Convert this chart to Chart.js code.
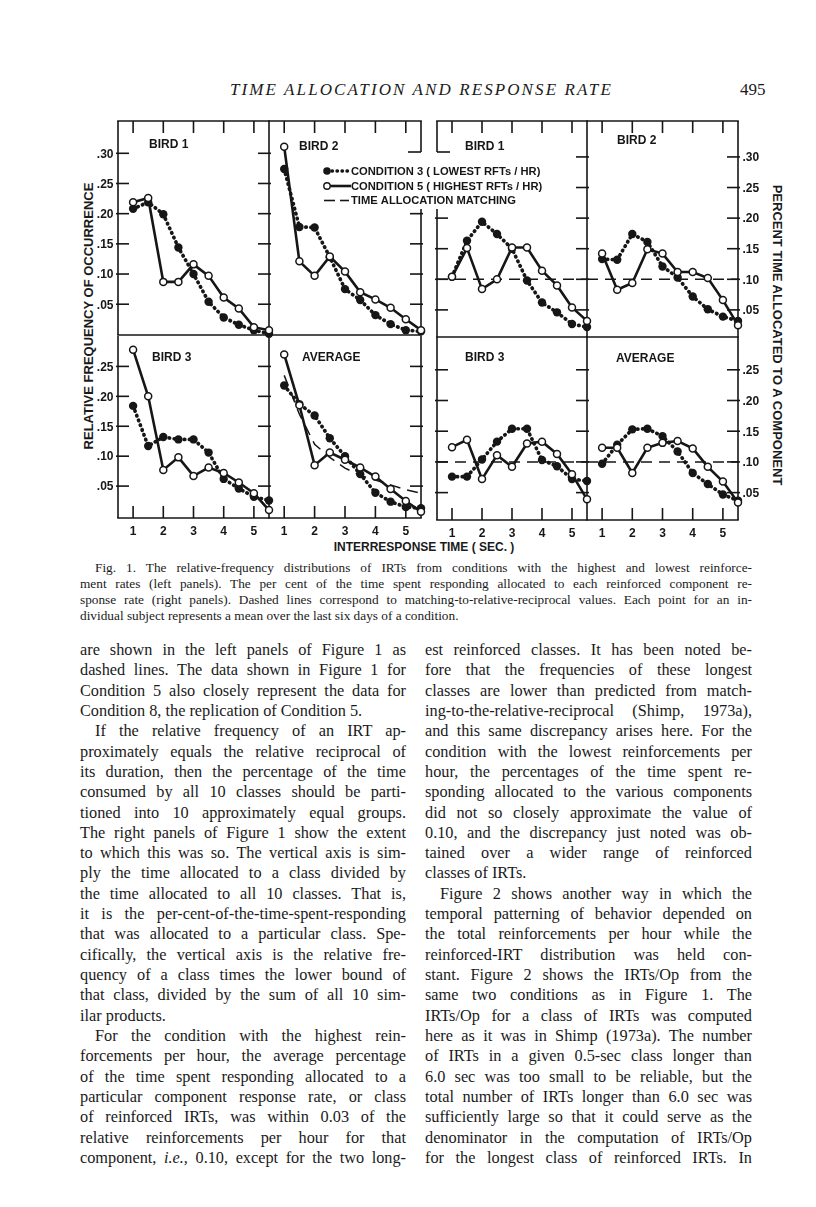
<!DOCTYPE html>
<html>
<head>
<meta charset="utf-8">
<script src="https://cdn.jsdelivr.net/npm/chart.js@4.4.0/dist/chart.umd.min.js"></script>
<style>
  body { margin: 0; background: #fff; width: 816px; height: 1207px; position: relative; overflow: hidden;
         font-family: "Liberation Serif", "Times New Roman", serif; color: #1a1a1a; }
  canvas { position: absolute; }
  .hdr { position: absolute; top: 80px; left: 230px; font-style: italic; font-size: 17px; letter-spacing: 2.1px; white-space: nowrap; }
  .pno { position: absolute; top: 80px; left: 740px; font-size: 17px; }
  .lab { position: absolute; font-family: "Liberation Sans", Arial, sans-serif; font-weight: bold; font-size: 13px; white-space: nowrap; }
  .cap { position: absolute; left: 80px; top: 560px; width: 672px; font-size: 13.3px; line-height: 16px; }
  .col { position: absolute; top: 640px; font-size: 16.3px; line-height: 20.32px; }
  .cap div, .col div { height: 16px; text-align: justify; text-align-last: justify; white-space: nowrap; }
  .col div { height: 20.32px; }
  .cap div.e, .col div.e { text-align-last: left; }
  .cap div.i, .col div.i { text-indent: 15px; }
</style>
</head>
<body>
<div class="hdr">TIME ALLOCATION AND RESPONSE RATE</div>
<div class="pno">495</div>

<div class="lab" style="left:88px;top:316px;transform:translate(-50%,-50%) rotate(-90deg);">RELATIVE FREQUENCY OF OCCURRENCE</div>
<div class="lab" style="left:777px;top:335px;transform:translate(-50%,-50%) rotate(90deg);">PERCENT TIME ALLOCATED TO A COMPONENT</div>
<div class="lab" style="left:424px;top:547px;font-size:12px;transform:translate(-50%,-50%);">INTERRESPONSE TIME ( SEC. )</div>

<div class="cap">
  <div class="i">Fig. 1. The relative-frequency distributions of IRTs from conditions with the highest and lowest reinforce-</div>
  <div>ment rates (left panels). The per cent of the time spent responding allocated to each reinforced component re-</div>
  <div>sponse rate (right panels). Dashed lines correspond to matching-to-relative-reciprocal values. Each point for an in-</div>
  <div class="e">dividual subject represents a mean over the last six days of a condition.</div>
</div>

<div class="col" style="left:80px;width:326px;">
  <div>are shown in the left panels of Figure 1 as</div>
  <div>dashed lines. The data shown in Figure 1 for</div>
  <div>Condition 5 also closely represent the data for</div>
  <div class="e">Condition 8, the replication of Condition 5.</div>
  <div class="i">If the relative frequency of an IRT ap-</div>
  <div>proximately equals the relative reciprocal of</div>
  <div>its duration, then the percentage of the time</div>
  <div>consumed by all 10 classes should be parti-</div>
  <div>tioned into 10 approximately equal groups.</div>
  <div>The right panels of Figure 1 show the extent</div>
  <div>to which this was so. The vertical axis is sim-</div>
  <div>ply the time allocated to a class divided by</div>
  <div>the time allocated to all 10 classes. That is,</div>
  <div>it is the per-cent-of-the-time-spent-responding</div>
  <div>that was allocated to a particular class. Spe-</div>
  <div>cifically, the vertical axis is the relative fre-</div>
  <div>quency of a class times the lower bound of</div>
  <div>that class, divided by the sum of all 10 sim-</div>
  <div class="e">ilar products.</div>
  <div class="i">For the condition with the highest rein-</div>
  <div>forcements per hour, the average percentage</div>
  <div>of the time spent responding allocated to a</div>
  <div>particular component response rate, or class</div>
  <div>of reinforced IRTs, was within 0.03 of the</div>
  <div>relative reinforcements per hour for that</div>
  <div>component, <i>i.e.,</i> 0.10, except for the two long-</div>
</div>

<div class="col" style="left:425px;width:327px;">
  <div>est reinforced classes. It has been noted be-</div>
  <div>fore that the frequencies of these longest</div>
  <div>classes are lower than predicted from match-</div>
  <div>ing-to-the-relative-reciprocal (Shimp, 1973a),</div>
  <div>and this same discrepancy arises here. For the</div>
  <div>condition with the lowest reinforcements per</div>
  <div>hour, the percentages of the time spent re-</div>
  <div>sponding allocated to the various components</div>
  <div>did not so closely approximate the value of</div>
  <div>0.10, and the discrepancy just noted was ob-</div>
  <div>tained over a wider range of reinforced</div>
  <div class="e">classes of IRTs.</div>
  <div class="i">Figure 2 shows another way in which the</div>
  <div>temporal patterning of behavior depended on</div>
  <div>the total reinforcements per hour while the</div>
  <div>reinforced-IRT distribution was held con-</div>
  <div>stant. Figure 2 shows the IRTs/Op from the</div>
  <div>same two conditions as in Figure 1. The</div>
  <div>IRTs/Op for a class of IRTs was computed</div>
  <div>here as it was in Shimp (1973a). The number</div>
  <div>of IRTs in a given 0.5-sec class longer than</div>
  <div>6.0 sec was too small to be reliable, but the</div>
  <div>total number of IRTs longer than 6.0 sec was</div>
  <div>sufficiently large so that it could serve as the</div>
  <div>denominator in the computation of IRTs/Op</div>
  <div>for the longest class of reinforced IRTs. In</div>
</div>

<script>
// IRT classes (lower bound, sec)
const irtClasses = [1, 1.5, 2, 2.5, 3, 3.5, 4, 4.5, 5, 5.5];
const xTickValues = [1, 2, 3, 4, 5];
const yTickValuesUpper = [0.05, 0.10, 0.15, 0.20, 0.25, 0.30];
const yTickLabelsUpper = ['.05', '.10', '.15', '.20', '.25', '.30'];
const yTickValuesLower = [0.05, 0.10, 0.15, 0.20, 0.25];
const yTickLabelsLower = ['.05', '.10', '.15', '.20', '.25'];

// relative frequency (left panels)
const bird1FreqCond3 = [0.208, 0.219, 0.199, 0.144, 0.100, 0.054, 0.028, 0.016, 0.007, 0.001];
const bird1FreqCond5 = [0.219, 0.226, 0.087, 0.087, 0.116, 0.097, 0.061, 0.043, 0.012, 0.007];
const bird2FreqCond3 = [0.274, 0.178, 0.177, 0.128, 0.075, 0.057, 0.032, 0.017, 0.007, 0.005];
const bird2FreqCond5 = [0.311, 0.121, 0.097, 0.129, 0.104, 0.070, 0.058, 0.044, 0.025, 0.007];
const bird3FreqCond3 = [0.184, 0.117, 0.132, 0.128, 0.128, 0.106, 0.062, 0.046, 0.032, 0.026];
const bird3FreqCond5 = [0.278, 0.200, 0.077, 0.098, 0.067, 0.081, 0.072, 0.056, 0.038, 0.010];
const avgFreqCond3   = [0.218, 0.187, 0.168, 0.130, 0.100, 0.070, 0.039, 0.024, 0.015, 0.013];
const avgFreqCond5   = [0.270, 0.185, 0.085, 0.106, 0.094, 0.081, 0.066, 0.045, 0.025, 0.007];
const avgFreqMatch   = [0.235, 0.170, 0.120, 0.098, 0.080, 0.068, 0.060, 0.052, 0.044, 0.038];

// percent time allocated (right panels)
const bird1TimeCond3 = [0.104, 0.163, 0.194, 0.174, 0.150, 0.098, 0.062, 0.046, 0.027, 0.022];
const bird1TimeCond5 = [0.104, 0.151, 0.084, 0.100, 0.152, 0.152, 0.114, 0.090, 0.054, 0.032];
const bird2TimeCond3 = [0.133, 0.132, 0.174, 0.161, 0.121, 0.103, 0.072, 0.051, 0.039, 0.032];
const bird2TimeCond5 = [0.142, 0.083, 0.094, 0.149, 0.142, 0.112, 0.112, 0.102, 0.066, 0.025];
const bird3TimeCond3 = [0.076, 0.076, 0.104, 0.133, 0.154, 0.154, 0.103, 0.093, 0.072, 0.069];
const bird3TimeCond5 = [0.124, 0.136, 0.072, 0.111, 0.092, 0.130, 0.133, 0.113, 0.080, 0.039];
const avgTimeCond3   = [0.097, 0.128, 0.153, 0.154, 0.142, 0.117, 0.082, 0.064, 0.047, 0.037];
const avgTimeCond5   = [0.123, 0.123, 0.082, 0.123, 0.131, 0.134, 0.122, 0.092, 0.068, 0.034];
const timeMatchX = [0.5, 5.5];
const timeMatch  = [0.10, 0.10];

const legendLabels = ['CONDITION 3 ( LOWEST RFTs / HR)', 'CONDITION 5 ( HIGHEST RFTs / HR)', 'TIME ALLOCATION MATCHING'];

const INK = '#161616';
const SANS = '"Liberation Sans", Arial, sans-serif';

const upperY = { ticks: yTickValuesUpper, labels: yTickLabelsUpper };
const lowerY = { ticks: yTickValuesLower, labels: yTickLabelsLower };

const panels = [
  { x: 118, y: 121, w: 151, h: 214.5, ymin: -0.001, ymax: 0.3535, c3: bird1FreqCond3, c5: bird1FreqCond5,
    title: 'BIRD 1', tx: 31, ty: 24, yt: upperY,
    edges: { top: true, left: { labels: true }, bottom: {}, right: {} } },
  { x: 269, y: 121, w: 152, h: 214.5, ymin: -0.001, ymax: 0.3535, c3: bird2FreqCond3, c5: bird2FreqCond5,
    title: 'BIRD 2', tx: 30, ty: 26, yt: upperY, legend: true, padRight: 150,
    edges: { top: true, right: { gap: [31, 88] }, bottom: {} } },
  { x: 118, y: 335.5, w: 151, h: 182.5, ymin: -0.0033, ymax: 0.3008, c3: bird3FreqCond3, c5: bird3FreqCond5,
    title: 'BIRD 3', tx: 34, ty: 21.5, yt: lowerY,
    edges: { left: { labels: true }, bottom: { labels: true }, right: {} } },
  { x: 269, y: 335.5, w: 152, h: 182.5, ymin: -0.0033, ymax: 0.3008, c3: avgFreqCond3, c5: avgFreqCond5,
    match: { x: irtClasses, y: avgFreqMatch }, title: 'AVERAGE', tx: 33, ty: 21.5, yt: lowerY,
    edges: { right: {}, bottom: { labels: true } } },
  { x: 437, y: 121, w: 150, h: 216, ymin: 0.0057, ymax: 0.3587, c3: bird1TimeCond3, c5: bird1TimeCond5,
    match: { x: timeMatchX, y: timeMatch }, title: 'BIRD 1', tx: 28, ty: 26, yt: upperY,
    edges: { top: true, left: { gap: [31, 88] }, right: {}, bottom: {} } },
  { x: 587, y: 121, w: 151, h: 216, ymin: 0.0057, ymax: 0.3587, c3: bird2TimeCond3, c5: bird2TimeCond5,
    match: { x: timeMatchX, y: timeMatch }, title: 'BIRD 2', tx: 30, ty: 20, yt: upperY,
    edges: { top: true, right: { labels: true }, bottom: {} } },
  { x: 437, y: 337, w: 150, h: 183, ymin: 0.0054, ymax: 0.3034, c3: bird3TimeCond3, c5: bird3TimeCond5,
    match: { x: timeMatchX, y: timeMatch }, title: 'BIRD 3', tx: 28, ty: 20.5, yt: lowerY,
    edges: { left: {}, bottom: { labels: true }, right: {} } },
  { x: 587, y: 337, w: 151, h: 183, ymin: 0.0054, ymax: 0.3034, c3: avgTimeCond3, c5: avgTimeCond5,
    match: { x: timeMatchX, y: timeMatch }, title: 'AVERAGE', tx: 29, ty: 22, yt: lowerY,
    edges: { right: { labels: true }, bottom: { labels: true } } },
];

// frame, inward ticks, tick labels, panel titles and legend
const panelFrame = {
  id: 'panelFrame',
  beforeDatasetsDraw(chart, args, o) {
    const { ctx, chartArea: a, scales: { x, y } } = chart;
    const e = o.edges;
    const line = (x1, y1, x2, y2) => { ctx.beginPath(); ctx.moveTo(x1, y1); ctx.lineTo(x2, y2); ctx.stroke(); };
    ctx.save();
    ctx.strokeStyle = INK;
    ctx.fillStyle = INK;
    ctx.lineWidth = 1.6;
    ctx.font = 'bold 12px ' + SANS;
    ctx.textBaseline = 'middle';

    if (e.top) {
      line(a.left - 0.8, a.top, a.right + 0.8, a.top);
      xTickValues.forEach(v => { const px = x.getPixelForValue(v); line(px, a.top, px, a.top + 12); });
    }
    if (e.bottom) {
      line(a.left - 0.8, a.bottom, a.right + 0.8, a.bottom);
      if (e.bottom.labels) {
        ctx.textAlign = 'center';
        xTickValues.forEach(v => {
          const px = x.getPixelForValue(v);
          line(px, a.bottom, px, a.bottom - 12);
          ctx.fillText(String(v), px, a.bottom + 13.5);
        });
      }
    }
    const side = (edge, xPos, dir) => {
      let from = a.top;
      if (edge.gap) {
        line(xPos, a.top, xPos, a.top + edge.gap[0]);
        line(xPos, a.top + edge.gap[0], xPos + dir * 13, a.top + edge.gap[0]);
        from = a.top + edge.gap[1];
      }
      line(xPos, from, xPos, a.bottom);
      const t = o.yt;
      t.ticks.forEach((v, i) => {
        const py = y.getPixelForValue(v);
        if (py < from + 4) return;
        line(xPos - dir * 2, py, xPos + dir * 11, py);
        if (edge.labels) {
          ctx.textAlign = dir > 0 ? 'right' : 'left';
          ctx.fillText(t.labels[i], xPos - dir * 4.5, py + 1);
        }
      });
    };
    if (e.left) side(e.left, a.left, 1);
    if (e.right) side(e.right, a.right, -1);

    ctx.font = 'bold 12px ' + SANS;
    ctx.textAlign = 'left';
    ctx.fillText(o.title, a.left + o.tx, a.top + o.ty);

    if (o.legend) {
      const lx = a.left + 58, rows = [a.top + 50, a.top + 65, a.top + 79.5];
      ctx.font = 'bold 11.2px ' + SANS;
      // condition 3
      ctx.save();
      ctx.lineWidth = 3.4; ctx.lineCap = 'round'; ctx.setLineDash([0.5, 4.5]);
      line(lx + 5, rows[0], lx + 22, rows[0]);
      ctx.restore();
      ctx.beginPath(); ctx.arc(lx, rows[0], 3.8, 0, Math.PI * 2); ctx.fill();
      // condition 5
      ctx.save();
      ctx.lineWidth = 2.6;
      line(lx + 3, rows[1], lx + 24, rows[1]);
      ctx.lineWidth = 1.4; ctx.fillStyle = '#fff';
      ctx.beginPath(); ctx.arc(lx, rows[1], 3.2, 0, Math.PI * 2); ctx.fill(); ctx.stroke();
      ctx.restore();
      // matching
      ctx.save();
      ctx.lineWidth = 1.6;
      line(lx - 3, rows[2], lx + 8, rows[2]);
      line(lx + 13, rows[2], lx + 22, rows[2]);
      ctx.restore();
      legendLabels.forEach((s, i) => ctx.fillText(s, lx + 24, rows[i] + 0.5));
    }
    ctx.restore();
  }
};

panels.forEach(p => {
  const pad = { left: 50, right: p.padRight || 50, top: 40, bottom: 40 };
  const cv = document.createElement('canvas');
  cv.width = p.w + pad.left + pad.right;
  cv.height = p.h + pad.top + pad.bottom;
  cv.style.left = (p.x - pad.left) + 'px';
  cv.style.top = (p.y - pad.top) + 'px';
  document.body.appendChild(cv);

  const datasets = [
    { data: irtClasses.map((v, i) => ({ x: v, y: p.c5[i] })), borderColor: INK, borderWidth: 2.6,
      pointRadius: 3.5, pointBackgroundColor: '#fff', pointBorderColor: INK, pointBorderWidth: 1.5, clip: false },
    { data: irtClasses.map((v, i) => ({ x: v, y: p.c3[i] })), borderColor: INK, borderWidth: 3.7,
      borderDash: [0.5, 4.6], borderCapStyle: 'round', pointRadius: 4.2, pointBackgroundColor: INK,
      pointBorderWidth: 0, clip: false },
  ];
  if (p.match) {
    datasets.push({ data: p.match.x.map((v, i) => ({ x: v, y: p.match.y[i] })), borderColor: INK,
      borderWidth: 1.5, borderDash: [11, 7], pointRadius: 0, clip: false });
  }

  new Chart(cv, {
    type: 'line',
    data: { datasets },
    options: {
      responsive: false,
      animation: false,
      events: [],
      layout: { padding: pad },
      elements: { line: { tension: 0 } },
      plugins: { legend: { display: false }, tooltip: { enabled: false }, panelFrame: p },
      scales: {
        x: { type: 'linear', min: 0.5, max: 5.5, display: false },
        y: { type: 'linear', min: p.ymin, max: p.ymax, display: false }
      }
    },
    plugins: [panelFrame]
  });
});

// squeeze any text line that is wider than its column
document.querySelectorAll('.cap div, .col div').forEach(el => {
  let ls = 0;
  while (el.scrollWidth > el.clientWidth + 0.5 && ls > -1.2) {
    ls -= 0.05;
    el.style.letterSpacing = ls.toFixed(2) + 'px';
  }
});
</script>
</body>
</html>
